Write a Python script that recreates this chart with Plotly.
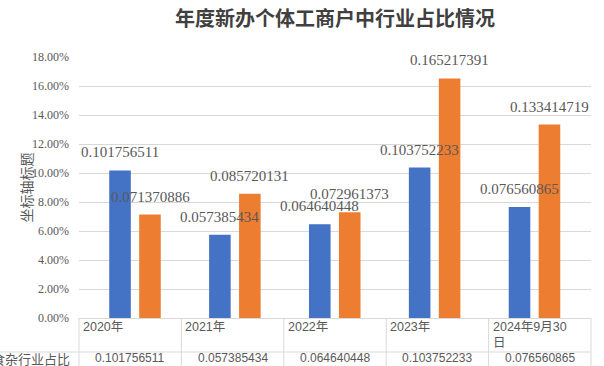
import plotly.graph_objects as go

# ---- data ----
categories = ["2020年", "2021年", "2022年", "2023年", "2024年9月30日"]
series1_name = "食杂行业占比"
series1_values = [0.101756511, 0.057385434, 0.064640448, 0.103752233, 0.076560865]
series2_name = "系列2"
series2_values = [0.071370886, 0.085720131, 0.072961373, 0.165217391, 0.133414719]
y_ticks = [0, 0.02, 0.04, 0.06, 0.08, 0.10, 0.12, 0.14, 0.16, 0.18]
title_text = "年度新办个体工商户中行业占比情况"
y_title = "坐标轴标题"

# ---- layout constants ----
W, H = 604, 366
ML, MR, MT, MB = 79, 13, 57, 48
PW, PH = W - ML - MR, H - MT - MB
BLUE, ORANGE = "#4472C4", "#ED7D31"
GRID = "#D9D9D9"
TXT = "#595959"
CJK = "Noto Sans CJK SC"


def px_x(px):
    return (px - ML) / PW


def px_y(py):
    return (H - MB - py) / PH


fig = go.Figure()
fig.add_trace(go.Bar(x=categories, y=series1_values, name=series1_name,
                     marker=dict(color=BLUE, line=dict(width=0))))
fig.add_trace(go.Bar(x=categories, y=series2_values, name=series2_name,
                     marker=dict(color=ORANGE, line=dict(width=0))))

annotations = []
label_font = dict(family="Liberation Serif", size=15, color=TXT)
for vals, shift in ((series1_values, -15), (series2_values, 15)):
    for c, v in zip(categories, vals):
        annotations.append(dict(x=c, y=v, xref="x", yref="y", text=f"{v:.9f}",
                                showarrow=False, xshift=shift, yshift=18,
                                xanchor="center", yanchor="middle", font=label_font))

# y-axis title
annotations.append(dict(x=px_x(25), y=0.5, xref="paper", yref="paper", text=y_title,
                        textangle=-90, showarrow=False, xanchor="center", yanchor="middle",
                        font=dict(family=CJK, size=14, color=TXT)))

# data table
n = len(categories)
tbl_font = dict(family="Liberation Sans, " + CJK, size=12.5, color=TXT)
for k, c in enumerate(categories):
    lab = c if len(c) <= 9 else c[:9] + "<br>" + c[9:]
    annotations.append(dict(x=k / n, y=0, xref="paper", yref="paper", text=lab,
                            showarrow=False, xanchor="left", yanchor="top", align="left",
                            xshift=2, yshift=0, font=tbl_font))
    annotations.append(dict(x=(k + 0.5) / n, y=0, xref="paper", yref="paper",
                            text=f"{series1_values[k]:.9f}", showarrow=False,
                            xanchor="center", yanchor="middle", yshift=-40,
                            font=dict(family="Liberation Sans", size=12, color=TXT)))
annotations.append(dict(x=0, y=0, xref="paper", yref="paper", text=series1_name,
                        showarrow=False, xanchor="right", yanchor="middle",
                        xshift=-7, yshift=-40, font=dict(family=CJK, size=13, color=TXT)))

shapes = []
shapes.append(dict(type="line", xref="paper", yref="paper", x0=px_x(0), x1=1,
                   y0=px_y(352), y1=px_y(352), line=dict(color=GRID, width=1)))
for k in range(n + 1):
    shapes.append(dict(type="line", xref="paper", yref="paper", x0=k / n, x1=k / n,
                       y0=0, y1=px_y(H), line=dict(color=GRID, width=1)))

fig.update_layout(
    width=W, height=H,
    margin=dict(l=ML, r=MR, t=MT, b=MB, pad=0),
    paper_bgcolor="white", plot_bgcolor="white",
    showlegend=False,
    barmode="group", bargap=0.4, bargroupgap=0.28,
    title=dict(text=f"<b>{title_text}</b>", x=0.5, xref="paper", xanchor="center",
               y=1 - 19 / H, yref="container", yanchor="middle",
               font=dict(family=CJK, size=20, color="#404040")),
    annotations=annotations,
    shapes=shapes,
)
fig.update_xaxes(showticklabels=False, showgrid=False, showline=False, ticks="",
                 zeroline=False, fixedrange=True)
fig.update_yaxes(range=[0, 0.18], tickvals=y_ticks, tickformat=".2%",
                 showgrid=True, gridcolor=GRID, gridwidth=1,
                 zeroline=True, zerolinecolor=GRID, zerolinewidth=1,
                 showline=False, ticks="", ticklabelstandoff=9,
                 tickfont=dict(family="Liberation Serif", size=12, color=TXT))

fig.write_html("out.html", config={"displayModeBar": False},
               post_script="document.body.style.margin='0';document.body.style.overflow='hidden';")
